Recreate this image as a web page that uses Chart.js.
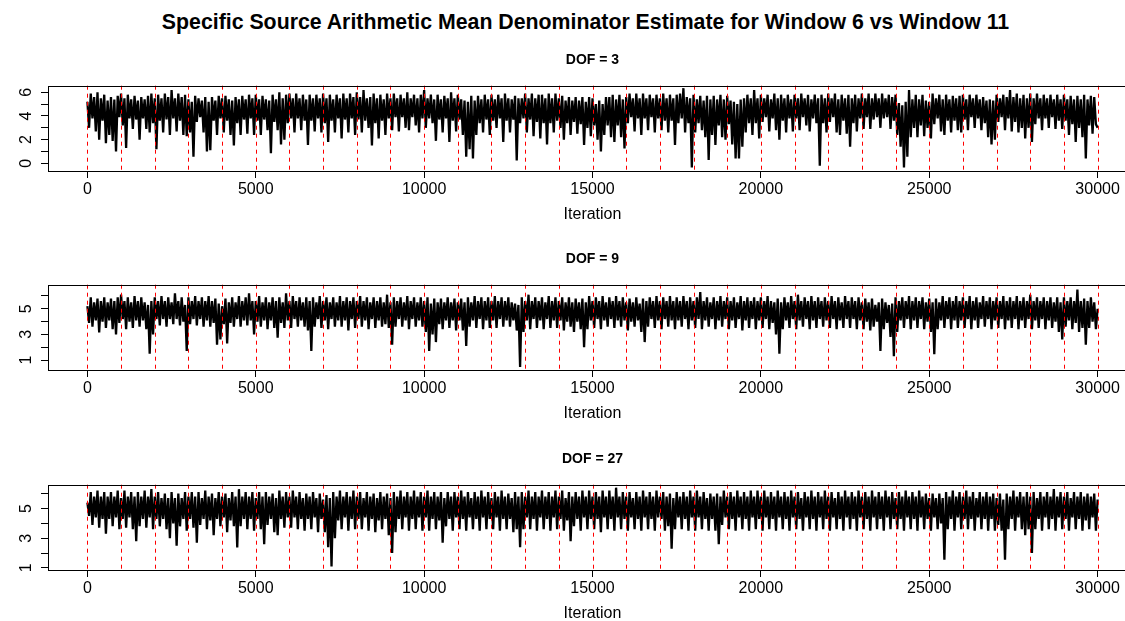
<!DOCTYPE html>
<html>
<head>
<meta charset="utf-8">
<title>Arithmetic Mean Denominator Estimate traces</title>
<script src="https://cdn.jsdelivr.net/npm/chart.js@4.4.1/dist/chart.umd.min.js"></script>
<style>
  html, body { margin: 0; padding: 0; background: #fff; overflow: hidden; }
  body { width: 1125px; height: 621px; position: relative; font-family: "Liberation Sans", Arial, Helvetica, sans-serif; }
  #mainTitle { position: absolute; left: 0; top: 10px; width: 1171px; text-align: center; font-size: 21.3px; font-weight: bold; line-height: 24px; color: #000; }
  canvas { position: absolute; left: 0; }
</style>
</head>
<body>
<div id="mainTitle">Specific Source Arithmetic Mean Denominator Estimate for Window 6 vs Window 11</div>
<canvas id="dof3" width="1140" height="200" style="top:40px"></canvas>
<canvas id="dof9" width="1140" height="200" style="top:239px"></canvas>
<canvas id="dof27" width="1140" height="200" style="top:439px"></canvas>
<script>
// Axis ticks and the window boundaries (abline v = ...)
const iterTicks = [0, 5000, 10000, 15000, 20000, 25000, 30000];
const refIters = [0, 1000, 2000, 3000, 4000, 5000, 6000, 7000, 8000, 9000, 10000, 11000, 12000, 13000, 14000, 15000,
  16000, 17000, 18000, 19000, 20000, 21000, 22000, 23000, 24000, 25000, 26000, 27000, 28000, 29000, 30000];

// Thinned traces, one value every 50 iterations (peak, trough, peak, ...)
const iterStep = 50;
const dof3Trace = [
  5.2,3.0,5.9,3.8,5.6,2.7,6.0,2.0,5.5,3.6,5.8,1.7,5.3,2.4,5.6,1.9,5.4,1.0,5.7,3.9,
  5.9,3.2,5.5,1.3,5.8,3.8,5.4,2.9,5.7,3.7,5.3,2.0,5.6,3.8,5.4,2.9,5.7,2.6,5.9,3.4,
  5.5,1.2,5.8,3.6,5.5,2.6,5.9,3.7,5.6,2.4,6.2,3.8,5.5,2.7,5.9,3.6,5.6,2.4,5.8,2.3,
  5.4,2.6,5.2,0.55,5.7,3.5,5.5,3.9,5.3,2.6,5.6,1.0,5.2,1.1,5.6,3.6,5.3,2.4,5.7,3.8,
  5.5,2.6,5.7,3.6,5.4,2.4,5.3,1.5,5.6,3.4,5.4,2.4,5.7,3.7,5.4,2.5,5.8,3.8,5.5,2.4,
  5.8,3.6,5.4,2.4,5.7,3.7,5.4,2.8,5.3,0.85,5.8,3.5,5.4,2.8,6.0,1.6,5.5,2.0,5.8,3.4,
  5.9,3.8,5.5,2.6,5.9,3.8,5.5,2.8,5.8,3.6,5.4,1.55,5.8,3.6,5.5,2.7,5.8,3.8,5.5,2.6,
  5.9,3.4,5.5,1.8,5.8,3.6,5.4,2.6,5.8,3.8,5.5,2.1,5.9,3.7,5.5,2.6,5.9,3.8,5.6,2.4,
  6.0,3.7,5.6,2.6,6.2,3.6,5.5,3.0,5.6,1.5,5.9,3.4,5.5,2.1,5.8,3.6,5.4,2.4,5.9,3.8,
  5.5,2.8,5.9,3.9,5.5,2.7,5.8,3.9,5.5,3.0,6.0,2.8,5.5,3.9,5.8,3.2,5.5,2.6,5.8,3.8,
  6.2,3.0,5.5,3.8,5.8,3.4,5.4,1.9,5.8,3.7,5.4,2.6,5.7,3.8,5.5,1.8,6.0,3.6,5.5,2.7,
  5.8,3.7,5.4,2.4,5.3,0.55,5.2,1.2,5.7,0.4,5.3,2.4,5.7,3.4,5.4,2.6,5.8,3.7,5.4,2.4,
  5.8,3.6,5.4,3.0,5.8,3.8,5.5,1.8,5.9,3.6,5.5,2.6,5.4,3.7,5.7,0.25,5.5,3.4,5.5,3.8,
  5.9,2.6,5.5,3.7,5.9,2.3,5.5,3.5,5.8,2.1,5.8,3.4,5.5,1.6,5.9,3.4,5.5,2.6,5.9,3.6,
  5.5,3.0,5.7,2.0,5.3,3.4,5.6,2.4,5.3,3.5,5.6,2.5,5.3,3.3,5.6,1.55,5.2,3.0,5.6,2.3,
  5.5,3.2,5.0,2.0,5.3,1.0,5.0,2.4,5.6,3.2,5.6,2.2,5.8,1.8,5.4,3.2,5.8,2.2,5.4,1.25,
  5.6,3.4,5.9,3.9,5.5,2.7,5.9,3.8,5.5,2.4,5.9,3.8,5.5,2.8,5.8,3.9,5.5,2.6,5.8,3.8,
  5.5,2.8,5.9,3.6,5.5,2.6,5.8,3.6,5.5,1.55,5.8,3.4,5.9,3.8,6.35,2.6,5.6,3.4,5.5,-0.35,
  5.8,2.6,5.4,3.4,5.7,2.8,5.3,2.2,5.7,0.28,5.4,2.4,5.7,1.55,5.4,3.2,5.8,2.2,5.4,2.0,
  5.7,3.3,5.3,1.6,5.2,0.4,5.0,0.4,5.4,1.4,5.5,2.6,5.8,3.4,5.5,2.4,6.2,3.4,5.5,2.1,
  5.8,3.5,5.5,3.9,5.8,2.7,5.4,3.8,5.9,2.8,5.5,2.0,5.8,3.6,5.5,2.6,5.8,3.8,5.4,2.7,
  5.8,3.8,5.5,2.8,5.9,3.9,5.5,3.2,5.8,2.7,5.4,3.8,5.8,3.4,5.5,-0.2,5.8,3.4,5.5,2.6,
  5.9,3.5,5.5,3.9,5.9,2.6,5.4,2.4,5.8,3.6,5.5,2.5,5.8,1.4,5.5,3.4,5.8,2.7,5.5,3.8,
  5.9,2.9,5.5,3.9,5.9,2.9,5.5,3.7,5.9,3.9,5.5,3.0,5.9,3.8,5.5,3.9,5.8,2.9,5.6,3.6,
  5.8,2.4,5.1,1.4,4.9,-0.35,5.2,0.55,6.2,2.2,5.4,3.0,5.8,2.2,5.4,3.2,5.8,2.3,5.3,3.0,
  5.2,2.1,5.9,3.3,5.5,3.8,5.8,2.7,5.4,2.4,5.8,3.6,5.4,2.6,5.7,3.6,5.5,2.8,5.7,2.6,
  5.8,3.7,5.4,2.8,5.8,3.9,5.5,3.0,5.8,3.8,5.4,2.8,5.6,3.4,5.3,2.2,5.4,1.6,5.3,2.0,
  5.8,3.5,5.5,3.9,5.8,2.8,5.6,3.8,6.2,2.7,5.6,3.5,5.9,2.6,5.5,3.0,5.8,2.1,5.5,3.0,
  5.9,1.8,5.5,3.3,5.9,3.8,5.5,2.8,5.8,3.8,5.5,3.0,5.8,3.9,5.4,2.9,5.8,3.6,5.4,2.9,
  5.8,3.6,5.4,2.4,5.7,3.3,5.4,1.8,5.7,3.0,5.4,2.2,5.8,0.4,5.4,3.2,5.7,2.5,5.6,3.3,
  3.0
];
const dof9Trace = [
  5.2,3.9,5.9,3.6,5.5,4.1,5.8,3.15,5.6,4.0,5.9,3.5,5.5,4.1,5.8,3.4,5.6,3.0,5.9,3.9,
  6.1,4.2,5.6,3.4,5.9,4.0,5.5,3.5,6.0,4.1,5.6,3.6,5.9,4.1,5.5,3.4,5.3,1.5,5.6,3.0,
  5.9,4.2,5.6,3.7,6.0,4.2,5.6,3.6,5.9,4.2,5.5,3.8,6.2,4.2,5.6,3.7,5.9,4.0,5.3,1.7,
  5.9,3.8,5.6,4.2,6.0,3.7,5.6,4.2,5.9,3.6,5.6,4.1,6.0,3.6,5.6,3.9,5.8,2.2,5.4,2.6,
  5.2,3.8,5.8,2.3,5.5,3.9,5.9,3.6,5.5,4.2,6.0,3.6,5.6,4.1,5.9,3.7,6.2,4.1,5.6,3.0,
  5.6,4.0,6.0,3.6,5.5,4.1,5.9,3.4,5.5,4.1,5.9,3.5,5.6,2.75,5.9,3.9,5.5,3.5,6.2,4.1,
  5.6,3.5,6.0,4.2,5.6,3.6,5.9,4.1,5.5,3.6,5.9,3.3,5.6,1.7,5.9,3.6,5.5,4.2,6.0,3.5,
  5.6,4.1,5.9,3.4,5.5,4.2,5.9,3.6,5.5,4.1,6.0,3.6,5.6,4.1,5.9,3.3,5.6,4.2,5.9,3.5,
  5.6,4.2,6.0,3.6,5.6,4.1,5.9,3.4,5.5,4.2,5.9,3.5,5.6,4.1,5.9,3.6,5.5,3.8,6.1,3.5,
  5.5,2.2,5.9,3.6,5.6,4.2,5.9,3.6,5.5,4.1,6.0,3.4,5.6,4.2,5.9,3.6,5.5,4.1,5.9,3.6,
  5.6,3.2,5.9,1.7,5.4,3.0,5.8,2.4,5.5,3.8,5.8,3.4,5.5,4.1,5.9,3.5,5.5,4.1,5.8,3.3,
  5.5,4.1,5.8,3.3,5.5,2.1,5.9,3.6,5.5,4.1,6.0,3.5,5.6,4.2,5.9,3.4,5.6,4.1,5.9,3.5,
  5.6,4.1,6.0,3.5,5.6,4.2,5.9,3.6,5.6,4.1,5.9,3.6,5.5,4.1,5.4,3.3,5.3,0.45,5.9,3.2,
  5.6,4.1,6.1,3.4,5.6,4.2,5.9,3.5,5.6,4.1,5.9,3.4,5.5,4.2,6.0,3.5,5.6,4.1,5.9,3.5,
  5.6,4.1,5.9,3.3,5.5,4.0,5.9,3.6,5.5,3.2,5.8,4.0,5.5,3.4,5.8,2.0,5.5,3.4,6.0,4.1,
  5.6,3.5,5.9,4.2,5.6,3.4,6.0,4.1,5.5,3.6,5.9,4.2,5.6,3.5,6.0,4.1,5.6,3.6,5.9,4.1,
  5.5,3.3,5.8,4.0,5.5,3.6,5.9,4.1,5.4,3.2,5.8,2.4,5.6,3.6,5.9,4.2,5.6,3.5,6.0,4.1,
  5.6,3.4,5.9,4.2,5.6,3.6,6.0,4.1,5.6,3.4,5.9,4.1,5.6,3.6,6.0,4.2,5.6,3.4,5.9,4.1,
  5.6,3.5,5.9,4.2,6.3,3.4,5.6,4.1,5.9,3.6,5.5,4.2,5.9,3.4,5.6,4.1,6.0,3.6,5.6,4.2,
  5.9,3.4,5.6,4.1,5.9,3.5,5.5,4.2,6.0,3.3,5.6,4.1,5.9,3.5,5.6,4.2,5.9,3.4,5.6,4.1,
  5.9,3.5,5.6,4.2,6.0,3.4,5.6,3.9,5.5,3.0,5.8,1.5,5.5,3.4,5.9,4.1,5.5,3.5,6.0,4.2,
  5.6,3.4,6.1,4.1,5.6,3.6,5.9,4.2,5.6,3.4,6.0,4.1,5.6,3.5,5.9,4.2,5.6,3.6,5.9,4.1,
  5.6,3.5,6.0,4.2,5.6,3.4,5.9,4.1,5.5,3.5,6.0,4.2,5.6,3.5,5.9,4.2,5.6,3.4,5.9,4.1,
  5.5,3.4,5.8,4.0,5.5,3.3,5.8,3.6,5.3,4.0,5.5,1.7,5.8,3.4,5.5,3.9,5.3,2.8,5.4,1.3,
  5.9,3.2,5.6,4.1,5.9,3.5,5.6,4.2,6.0,3.4,5.6,4.1,5.9,3.5,5.6,4.2,5.9,3.4,5.5,4.0,
  5.8,3.2,5.5,1.45,5.8,3.4,5.5,4.1,6.0,3.5,5.6,4.2,5.9,3.4,5.6,4.1,6.0,3.5,5.6,4.1,
  5.9,3.5,5.6,4.2,6.0,3.4,5.6,4.1,5.9,3.5,5.5,4.2,6.0,3.6,5.6,4.2,5.9,3.4,5.6,4.1,
  5.9,3.5,5.6,4.2,6.0,3.4,5.6,4.1,5.9,3.5,5.6,4.2,6.0,3.4,5.6,4.1,5.9,3.5,5.6,4.2,
  6.1,3.4,5.6,4.1,5.9,3.5,5.6,4.2,5.9,3.4,5.6,4.1,5.9,3.5,5.5,4.0,5.9,3.2,5.5,2.6,
  5.9,3.6,5.6,4.1,5.9,3.4,5.6,3.9,6.5,3.2,5.6,3.5,5.8,2.2,5.6,3.5,5.9,4.0,5.5,3.4,
  5.0
];
const dof27Trace = [
  5.4,4.5,6.1,3.9,5.8,4.4,6.2,3.7,5.8,4.3,6.1,3.3,5.8,4.3,6.1,3.8,5.8,4.4,6.2,3.6,
  5.7,4.3,6.2,3.7,5.8,4.4,6.1,3.6,5.8,2.8,6.1,3.8,5.8,4.3,6.2,3.7,5.8,4.4,6.3,3.6,
  5.8,4.3,6.1,3.8,5.7,4.3,6.0,3.6,5.7,3.0,6.1,4.0,5.7,2.5,6.0,3.8,5.7,4.3,6.1,3.5,
  5.8,4.3,6.1,3.7,5.8,2.7,6.1,3.9,5.7,4.3,6.2,3.6,5.8,4.2,6.0,3.2,5.7,4.3,6.1,3.8,
  5.8,4.4,6.0,3.4,5.7,4.2,6.1,3.8,5.8,2.37,6.3,3.8,5.8,4.3,6.1,3.6,5.8,4.3,6.1,3.5,
  5.7,4.3,6.1,3.6,5.8,2.6,6.1,3.9,5.8,4.3,6.0,3.4,5.7,3.2,6.2,4.3,5.8,3.7,6.1,4.4,
  5.8,3.7,6.2,4.4,5.8,3.6,6.1,4.3,5.7,3.5,6.0,4.3,5.8,3.6,6.1,4.4,5.7,3.4,6.0,4.3,
  5.6,3.4,5.9,2.4,5.7,1.1,6.1,3.0,5.8,4.2,6.2,3.6,5.8,4.4,6.1,3.5,5.8,4.3,6.2,3.6,
  5.8,4.3,6.1,3.6,5.7,4.4,6.1,3.5,5.8,4.3,6.0,3.4,5.7,4.2,6.1,3.6,5.8,4.3,6.0,3.2,
  5.7,2.0,6.1,3.4,5.8,4.3,6.2,3.6,5.8,4.4,6.1,3.5,5.8,4.3,6.2,3.6,5.8,4.4,6.1,3.5,
  5.8,4.4,6.2,3.5,5.8,4.3,6.1,3.6,5.8,4.2,6.1,2.7,5.7,3.8,6.1,4.3,5.8,3.5,6.1,4.4,
  5.8,3.6,6.2,4.3,5.8,3.5,6.1,4.4,5.7,3.6,6.1,4.3,5.8,3.5,6.2,4.4,5.8,3.6,6.1,4.3,
  5.7,3.6,6.1,4.4,5.8,3.5,6.2,4.3,5.8,3.6,6.0,4.3,5.7,3.4,6.1,3.6,5.8,2.4,6.1,3.6,
  5.8,4.4,6.2,3.6,5.8,4.3,6.1,3.5,5.8,4.4,6.2,3.6,5.8,4.3,6.1,3.5,5.8,4.4,6.2,3.6,
  5.8,4.3,6.2,3.5,5.7,4.2,6.1,2.8,5.8,3.8,6.1,4.3,5.8,3.5,6.2,4.4,5.8,3.6,6.2,4.3,
  5.8,3.6,6.1,4.3,5.8,3.4,6.2,4.4,5.8,3.6,6.2,4.3,5.8,3.5,6.4,4.4,5.8,3.6,6.1,4.3,
  5.8,3.5,6.1,4.4,5.7,3.6,6.1,4.3,5.8,3.5,6.2,4.4,5.8,3.6,6.1,4.3,5.8,3.5,6.2,4.4,
  5.8,4.3,6.1,3.5,5.8,3.8,6.0,2.3,5.7,3.6,6.1,4.4,5.8,3.6,6.1,4.3,5.8,3.5,6.2,4.4,
  5.8,3.5,6.2,4.4,5.8,3.6,6.1,4.3,5.7,3.5,6.0,4.3,5.8,3.5,6.0,2.6,5.8,3.9,6.2,4.4,
  5.8,3.6,6.1,4.3,5.8,3.5,6.2,4.4,5.8,3.6,6.1,4.3,5.8,3.5,6.2,4.4,5.8,3.6,6.2,4.3,
  5.8,3.5,6.2,4.4,5.8,3.6,6.1,4.3,5.8,3.5,6.2,4.4,5.8,3.6,6.1,4.3,5.8,3.5,6.2,4.4,
  5.8,3.6,6.1,4.3,5.7,3.5,6.1,4.4,5.8,3.6,6.2,4.3,5.8,3.5,6.1,4.4,5.8,3.6,6.2,4.3,
  5.8,3.5,6.1,4.4,5.7,3.6,6.1,4.3,5.8,3.5,6.2,4.4,5.8,3.6,6.1,4.3,5.8,3.5,6.2,4.4,
  5.8,3.6,6.1,4.3,5.8,3.5,6.2,4.4,5.8,3.6,6.1,4.3,5.8,3.5,6.2,4.4,5.8,3.6,6.1,4.3,
  5.7,3.6,6.1,4.3,5.8,3.5,6.2,4.4,5.8,3.6,6.1,4.3,5.8,3.5,6.2,4.4,5.8,3.6,6.0,4.3,
  5.7,3.5,6.0,4.4,5.7,3.6,6.0,4.0,5.7,1.55,6.1,3.6,5.8,4.3,6.2,3.5,5.8,4.4,6.1,3.6,
  5.8,4.3,6.2,3.6,5.8,4.3,6.1,3.5,5.7,4.4,6.1,3.6,5.8,4.3,6.1,3.5,5.8,4.3,6.0,3.5,
  5.7,3.9,6.0,3.5,5.6,1.55,6.0,3.6,5.8,4.3,6.2,3.5,5.8,4.4,6.1,3.6,5.8,3.2,6.1,3.6,
  5.8,2.0,6.1,3.6,5.7,4.3,6.1,3.5,5.8,4.4,6.1,3.6,5.8,4.3,6.3,3.5,5.8,4.4,6.1,3.6,
  5.8,4.3,6.1,3.5,5.7,4.4,6.1,3.6,5.8,4.3,6.1,3.5,5.8,4.2,6.0,3.6,5.8,4.4,6.0,3.5,
  5.6
];

Chart.defaults.font.family = '"Liberation Sans", Arial, Helvetica, sans-serif';
Chart.defaults.color = '#000';

// R-style frame: red dashed window lines over the trace, box, rotated y labels
const rFrame = {
  id: 'rFrame',
  afterDatasetsDraw(chart) {
    const { ctx, chartArea: a, scales: { x } } = chart;
    ctx.save();
    ctx.strokeStyle = '#ff0000';
    ctx.lineWidth = 1;
    ctx.setLineDash([4, 4]);
    refIters.forEach(v => {
      const px = Math.round(x.getPixelForValue(v)) + 0.5;
      ctx.beginPath();
      ctx.moveTo(px, a.top);
      ctx.lineTo(px, a.bottom);
      ctx.stroke();
    });
    ctx.restore();
  },
  afterDraw(chart, args, opts) {
    const { ctx, chartArea: a, scales: { y } } = chart;
    ctx.save();
    ctx.strokeStyle = '#000';
    ctx.lineWidth = 1;
    ctx.strokeRect(Math.round(a.left) + 0.5, Math.round(a.top) + 0.5, Math.round(a.width), Math.round(a.height));
    ctx.font = '16px "Liberation Sans", Arial, sans-serif';
    ctx.fillStyle = '#000';
    ctx.textAlign = 'center';
    ctx.textBaseline = 'middle';
    opts.labels.forEach(v => {
      ctx.save();
      ctx.translate(a.left - 21, y.getPixelForValue(v));
      ctx.rotate(-Math.PI / 2);
      ctx.fillText(String(v), 0, 0);
      ctx.restore();
    });
    ctx.restore();
  }
};

function toXY(values) {
  return values.map((v, i) => ({ x: i * iterStep, y: v }));
}

function makePanel(id, title, trace, yMin, yMax, yTicks, yLabels) {
  return new Chart(document.getElementById(id), {
    type: 'line',
    data: {
      datasets: [{
        data: toXY(trace),
        borderColor: '#000',
        borderWidth: 2.3,
        borderJoinStyle: 'bevel',
        pointRadius: 0,
        tension: 0,
        fill: false
      }]
    },
    options: {
      responsive: false,
      animation: false,
      devicePixelRatio: 1,
      events: [],
      layout: { padding: { left: 48, right: 3, top: 0, bottom: 0 } },
      plugins: {
        legend: { display: false },
        tooltip: { enabled: false },
        title: {
          display: true,
          text: title,
          font: { size: 14, weight: 'bold' },
          padding: { top: 11.6, bottom: 17.3 }
        },
        rFrame: { labels: yLabels }
      },
      scales: {
        x: {
          type: 'linear',
          min: -1170,
          max: 31170,
          afterBuildTicks: s => { s.ticks = iterTicks.map(v => ({ value: v })); },
          afterFit: s => { s.height = 69; },
          border: { display: false },
          grid: { drawOnChartArea: false, drawTicks: true, tickLength: 7, color: '#000' },
          ticks: { font: { size: 16 }, padding: 2, maxRotation: 0, autoSkip: false, callback: v => String(v) },
          title: { display: true, text: 'Iteration', font: { size: 16 }, padding: { top: 0, bottom: 15.4 } }
        },
        y: {
          type: 'linear',
          min: yMin,
          max: yMax,
          afterBuildTicks: s => { s.ticks = yTicks.map(v => ({ value: v })); },
          afterFit: s => { s.width = 0; },
          border: { display: false },
          grid: { drawOnChartArea: false, drawTicks: true, tickLength: 7, color: '#000' },
          ticks: { display: false }
        }
      }
    },
    plugins: [rFrame]
  });
}

makePanel('dof3', 'DOF = 3', dof3Trace, -0.65, 6.56, [0, 1, 2, 3, 4, 5, 6], [0, 2, 4, 6]);
makePanel('dof9', 'DOF = 9', dof9Trace, 0.22, 6.88, [1, 2, 3, 4, 5, 6], [1, 3, 5]);
makePanel('dof27', 'DOF = 27', dof27Trace, 0.86, 6.6, [1, 2, 3, 4, 5, 6], [1, 3, 5]);
</script>
</body>
</html>
